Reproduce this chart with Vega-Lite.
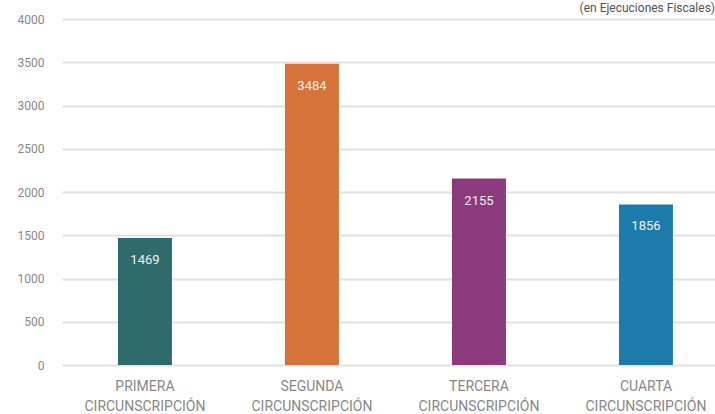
{
  "$schema": "https://vega.github.io/schema/vega-lite/v6.json",
  "autosize": {"type": "none"},
  "width": 653,
  "height": 346,
  "padding": {"left": 62, "top": 19, "right": 0, "bottom": 49},
  "background": "white",
  "config": {
    "font": "Roboto",
    "view": {"stroke": null}
  },
  "title": {
    "text": "(en Ejecuciones Fiscales)",
    "anchor": "end",
    "baseline": "bottom",
    "offset": 0,
    "dy": 14,
    "fontSize": 12,
    "fontWeight": "normal",
    "color": "#555555",
    "font": "Roboto"
  },
  "data": {
    "values": [
      {"circ": "PRIMERA CIRCUNSCRIPCIÓN", "valor": 1469},
      {"circ": "SEGUNDA CIRCUNSCRIPCIÓN", "valor": 3484},
      {"circ": "TERCERA CIRCUNSCRIPCIÓN", "valor": 2155},
      {"circ": "CUARTA CIRCUNSCRIPCIÓN", "valor": 1856}
    ]
  },
  "encoding": {
    "x": {
      "field": "circ",
      "type": "nominal",
      "sort": null,
      "title": null,
      "scale": {"paddingInner": 0.677, "paddingOuter": 0.2935, "align": 0.571},
      "axis": {
        "labelAngle": 0,
        "labelExpr": "split(datum.value, ' ')",
        "labelFontSize": 14,
        "labelLineHeight": 20,
        "labelColor": "#888888",
        "labelPadding": 14,
        "labelBaseline": "top",
        "ticks": false,
        "domain": false,
        "grid": false
      }
    },
    "y": {
      "field": "valor",
      "type": "quantitative",
      "title": null,
      "scale": {"domain": [0, 4000], "nice": false},
      "axis": {
        "values": [0, 500, 1000, 1500, 2000, 2500, 3000, 3500, 4000],
        "format": "d",
        "labelFontSize": 12,
        "labelColor": "#888888",
        "labelPadding": 18,
        "ticks": false,
        "domain": false,
        "gridColor": "#e2e2e2",
        "gridWidth": 2
      }
    }
  },
  "layer": [
    {
      "mark": {"type": "bar"},
      "encoding": {
        "color": {
          "field": "circ",
          "type": "nominal",
          "legend": null,
          "scale": {
            "domain": ["PRIMERA CIRCUNSCRIPCIÓN", "SEGUNDA CIRCUNSCRIPCIÓN", "TERCERA CIRCUNSCRIPCIÓN", "CUARTA CIRCUNSCRIPCIÓN"],
            "range": ["#2f6b6a", "#d5733a", "#8b3a7b", "#1d7bab"]
          }
        }
      }
    },
    {
      "mark": {"type": "text", "baseline": "middle", "dy": 22, "color": "#f0f0f0", "fontSize": 13, "fontWeight": "normal"},
      "encoding": {
        "text": {"field": "valor", "type": "quantitative"}
      }
    }
  ]
}
